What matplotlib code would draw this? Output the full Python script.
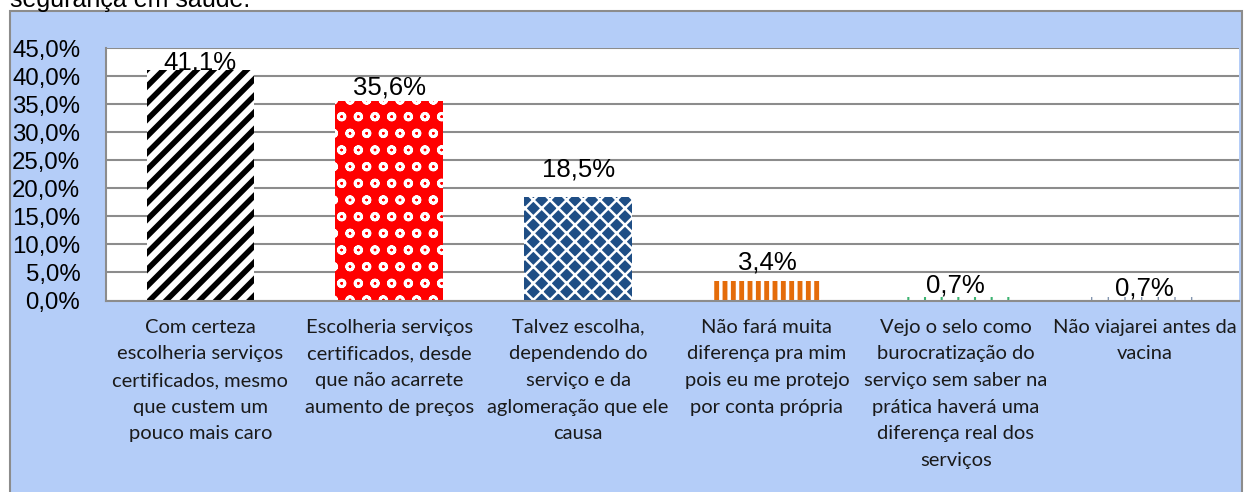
import matplotlib
matplotlib.use("Agg")
import matplotlib.pyplot as plt
from matplotlib.patches import Rectangle
from matplotlib.ticker import FuncFormatter


# ---------- Data ----------
categories = [
    "Com certeza\nescolheria serviços\ncertificados, mesmo\nque custem um\npouco mais caro",
    "Escolheria serviços\ncertificados, desde\nque não acarrete\naumento de preços",
    "Talvez escolha,\ndependendo do\nserviço e da\naglomeração que ele\ncausa",
    "Não fará muita\ndiferença pra mim\npois eu me protejo\npor conta própria",
    "Vejo o selo como\nburocratização do\nserviço sem saber na\nprática haverá uma\ndiferença real dos\nserviços",
    "Não viajarei antes da\nvacina",
]
values = [41.1, 35.6, 18.5, 3.4, 0.7, 0.7]
yticks = [0, 5, 10, 15, 20, 25, 30, 35, 40, 45]
title_cut = "segurança em saúde."

# ---------- Styles ----------
PANEL = "#B4CDF8"
GRID = "#8C8C8C"
bar_styles = [
    # face, hatch colour, hatch, hatch linewidth
    ("white", "black", "//", 4.0),
    ("#FF0000", "white", "o", 2.0),
    ("#1F4E85", "white", "xx", 1.8),
    ("#E46C0A", "white", "||", 2.5),
    ("white", "#3CB371", "|", 1.5),
    ("white", "#8496B0", "|", 1.0),
]
# gap between bar top and value label, in points (as placed in the original)
label_gap = [0, 4.3, 14.4, 8.6, 2.9, 0.7]

W, H = 1248, 492
fig = plt.figure(figsize=(W / 100, H / 100), dpi=100)
fig.patch.set_facecolor("white")

# light blue chart panel with grey border
fig.patches.append(Rectangle((10 / W, -0.05), 1232 / W, (H - 11) / H + 0.05,
                             transform=fig.transFigure, facecolor=PANEL,
                             edgecolor=GRID, linewidth=1.5, zorder=-10))

# heading line cut off at the top of the picture
fig.text(10 / W, (H - 6.5) / H, title_cut, fontsize=18, family="Liberation Sans",
         color="black", va="baseline", ha="left")

ax = fig.add_axes([106 / W, (H - 300.5) / H, 1133 / W, 252.5 / H])
ax.set_zorder(1)
ax.set_facecolor("white")

x = list(range(len(values)))
bars = ax.bar(x, values, width=0.57, zorder=2)
for b, (face, hcol, hatch, hlw) in zip(bars, bar_styles):
    b.set_facecolor(face)
    b.set_edgecolor(hcol)
    b.set_hatch(hatch)
    b.set_linewidth(0)
    if hasattr(b, "set_hatch_linewidth"):
        b.set_hatch_linewidth(hlw)

ax.set_xlim(-0.5, len(values) - 0.5)
ax.set_ylim(0, 45)
ax.set_yticks(yticks)
ax.yaxis.set_major_formatter(FuncFormatter(lambda v, p: f"{v:.1f}%".replace(".", ",")))
ax.yaxis.grid(True, color=GRID, linewidth=1.5, zorder=1)
ax.set_axisbelow(True)

for lab in ax.get_yticklabels():
    lab.set_family("Liberation Sans")
    lab.set_fontsize(17.3)
ax.tick_params(axis="y", length=0, pad=18.5)

ax.set_xticks(x)
ax.set_xticklabels(categories, family="Lato", fontsize=14.5, linespacing=1.69,
                   color="#1A1A1A", va="top", ha="center")
ax.tick_params(axis="x", length=0, pad=13)

for s in ["top", "right"]:
    ax.spines[s].set_visible(False)
for s in ["left", "bottom"]:
    ax.spines[s].set_color(GRID)
    ax.spines[s].set_linewidth(1.5)

# value labels
for i, v in enumerate(values):
    ax.annotate(f"{v:.1f}%".replace(".", ","), (i, v), xytext=(0, label_gap[i]),
                textcoords="offset points", ha="center", va="baseline",
                fontsize=18.5, family="Liberation Sans", zorder=3)

fig.savefig("out.png", dpi=100)
